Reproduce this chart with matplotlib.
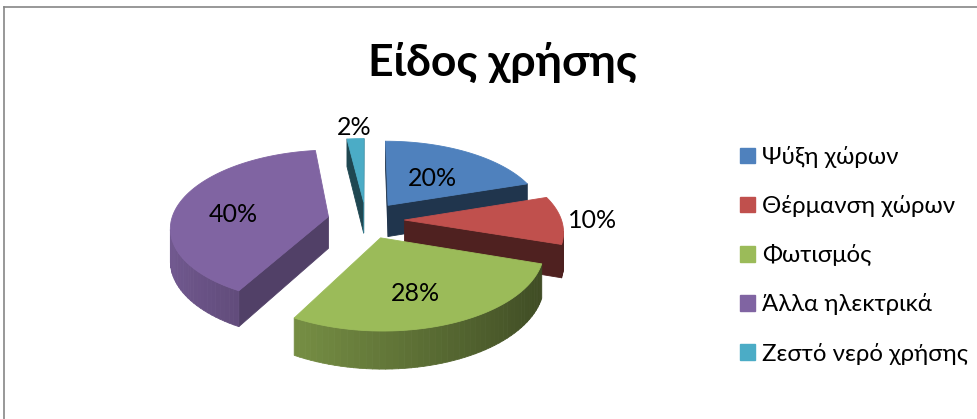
import matplotlib.pyplot as plt
import numpy as np
from matplotlib.patches import Polygon, Patch
from matplotlib.lines import Line2D

plt.rcParams['font.family'] = ['Lato', 'DejaVu Sans']

title = 'Είδος χρήσης'
labels = ['Ψύξη χώρων', 'Θέρμανση χώρων', 'Φωτισμός', 'Άλλα ηλεκτρικά', 'Ζεστό νερό χρήσης']
values = [20, 10, 28, 40, 2]
colors = ['#4F81BD', '#C0504D', '#9BBB59', '#8064A2', '#4BACC6']

W, H = 978, 419
fig = plt.figure(figsize=(W / 100, H / 100), dpi=100)
ax = fig.add_axes([0, 0, 1, 1])
ax.set_xlim(0, W)
ax.set_ylim(H, 0)
ax.axis('off')

# geometry of the tilted pie, in pixels
cx, cy = 366, 220
rx, ry = 157, 76
depth = 32
persp = 0.13
explode = 0.245
eye = np.array([0.0, -1.0 / persp])


def proj(u, v, z=0.0):
    s = 1.0 / (1.0 + persp * v)
    return cx + rx * u * s, cy - ry * v * s + depth * z * s


def shade(c, f):
    rgb = np.array([int(c[i:i + 2], 16) for i in (1, 3, 5)]) / 255.0
    return tuple(np.clip(rgb * f, 0, 1))


def face(pts, color):
    ax.add_patch(Polygon(pts, closed=True, facecolor=color, edgecolor=color,
                         lw=0.6, joinstyle='round'))


fracs = np.array(values, dtype=float) / sum(values)
ends = np.cumsum(fracs) * 2 * np.pi
starts = ends - fracs * 2 * np.pi
mids = (starts + ends) / 2

slices = []
for i in range(len(values)):
    o = explode * np.array([np.sin(mids[i]), np.cos(mids[i])])
    c = o + 0.5 * np.array([np.sin(mids[i]), np.cos(mids[i])])
    slices.append((c[1], i, o))

# back slices first
for _, i, o in sorted(slices, key=lambda s: -s[0]):
    a0, a1 = starts[i], ends[i]
    col = colors[i]
    t = np.linspace(a0, a1, max(3, int(np.degrees(a1 - a0) / 2) + 2))
    rim = np.array([o + [np.sin(a), np.cos(a)] for a in t])

    # flat radial walls
    for a, n in ((a0, np.array([-np.cos(a0), np.sin(a0)])),
                 (a1, np.array([np.cos(a1), -np.sin(a1)]))):
        p = o + 0.5 * np.array([np.sin(a), np.cos(a)])
        if np.dot(eye - p, n) > 0:
            q = o + [np.sin(a), np.cos(a)]
            pts = [proj(*o), proj(*q), proj(*q, 1), proj(*o, 1)]
            f = 0.41 + 0.3 * max(0.0, n[0] - 0.5) / 0.5
            face(pts, shade(col, f))

    # curved outer wall
    for k in range(len(t) - 1):
        tm = (t[k] + t[k + 1]) / 2
        n = np.array([np.sin(tm), np.cos(tm)])
        p = o + n
        if np.dot(eye - p, n) > 0:
            pts = [proj(*rim[k]), proj(*rim[k + 1]),
                   proj(*rim[k + 1], 1), proj(*rim[k], 1)]
            face(pts, shade(col, 0.64 - 0.25 * n[0]))

    # top surface
    top = [proj(*o)] + [proj(*p) for p in rim]
    face(top, col)

    # value label: big slices inside, small ones outside
    inside = fracs[i] >= 0.15
    r = 0.6 if inside else 1.2
    lp = o + r * np.array([np.sin(mids[i]), np.cos(mids[i])])
    lx, ly = proj(*lp, 0.2 if inside else 0.0)
    ax.text(lx - (5 if inside else 0), ly, f'{values[i]}%', ha='center', va='center',
            fontsize=18, color='black')

fig.text(503 / W, 1 - 62 / H, title, ha='center', va='center',
         fontsize=32, fontweight='bold')

handles = [Patch(facecolor=c, edgecolor=c) for c in colors]
fig.legend(handles, labels, loc='upper left', bbox_to_anchor=(740 / W, 1 - 146 / H),
           frameon=False, fontsize=17.3, handlelength=0.62, handleheight=0.62,
           handletextpad=0.3, labelspacing=1.13, borderpad=0, borderaxespad=0)

# chart area border (top and left edges visible)
fig.add_artist(Line2D([4 / W, 1], [1 - 7 / H, 1 - 7 / H], transform=fig.transFigure,
                      color='#868686', lw=1.2))
fig.add_artist(Line2D([4 / W, 4 / W], [1 - 7 / H, 0], transform=fig.transFigure,
                      color='#868686', lw=1.2))

fig.savefig('out.png', dpi=100, facecolor='white')
